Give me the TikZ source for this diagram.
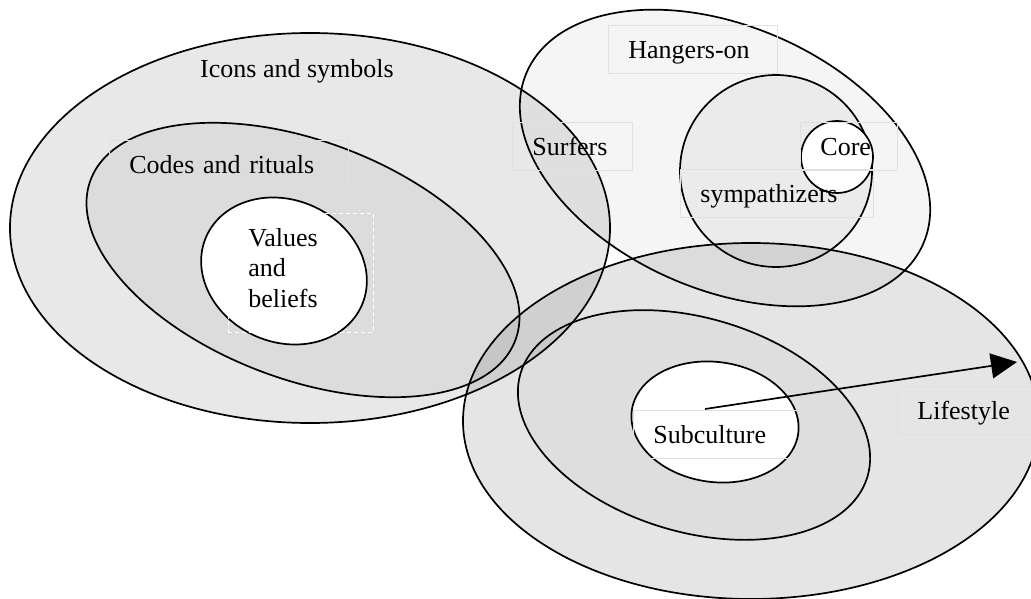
\documentclass[tikz,border=0pt]{standalone}
\usepackage{fontspec}
\setmainfont{Liberation Serif}
\usepackage{tikz}
\usetikzlibrary{arrows.meta}
\definecolor{boxgray}{HTML}{E0E0E0}

\begin{document}
\begin{tikzpicture}[x=1pt, y=-1pt, font=\fontsize{26}{30.5}\selectfont,
          ring/.style={draw=black, line width=1.7pt, fill=black, fill opacity=#1},
          hole/.style={draw=black, line width=1.7pt, fill=white},
          tbox/.style={draw=boxgray, line width=.8pt, anchor=north west, inner xsep=20pt, inner ysep=10pt,
                       text height=23pt, text depth=5pt, align=left}]
          \useasboundingbox (0,0) rectangle (1031,599);
          % culture side
          \draw[ring=.09] (310,228) ellipse [x radius=300, y radius=195];
          \draw[ring=.05, shift={(303,260)}, rotate=-20.7] (0,0) ellipse [x radius=227, y radius=119];
          \draw[hole, shift={(284,271)}, rotate=-24] (0,0) ellipse [x radius=85, y radius=71];
          % membership side
          \draw[ring=.04, shift={(725,158)}, rotate=-23.3] (0,0) ellipse [x radius=216, y radius=132];
          \draw[ring=.04] (776,171) circle [radius=96];
          \draw[hole] (837,157) circle [radius=36];
          % lifestyle side
          \draw[ring=.10] (751,421) ellipse [x radius=288, y radius=178];
          \draw[ring=.03, shift={(694,425)}, rotate=-16.6] (0,0) ellipse [x radius=181, y radius=107];
          \draw[hole, shift={(715,422)}, rotate=-8] (0,0) ellipse [x radius=84, y radius=60];
          % labels
          \node[anchor=base west, inner sep=0pt] (icons) at (200,78) {Icons and symbols};
          \node[tbox, text width=199pt] (codes) at (109,140) {Codes and rituals};
          \node[tbox, draw=white, dash pattern=on 4pt off 3pt, text width=105pt, text depth=76pt] (values) at (228,213) {Values\\and\\beliefs};
          \node[tbox, text width=129pt] (hangers) at (608,25) {Hangers-on};
          \node[tbox, text width=80pt] (surfers) at (512,122) {Surfers};
          \node[tbox, text width=57pt] (core) at (800,122) {Core};
          \node[tbox, text width=153pt] (symp) at (680,169) {sympathizers};
          \node[tbox, text width=127pt] (subc) at (633,410) {Subculture};
          \node[tbox, text width=100pt] (life) at (897,386) {Lifestyle};
          \coordinate (subin) at (705,409);
          \coordinate (lifetip) at (1017,362);
          \draw[line width=1.7pt, -{Triangle[length=26pt, width=25pt]}] (subin) -- (lifetip);
        \end{tikzpicture}
\end{document}
